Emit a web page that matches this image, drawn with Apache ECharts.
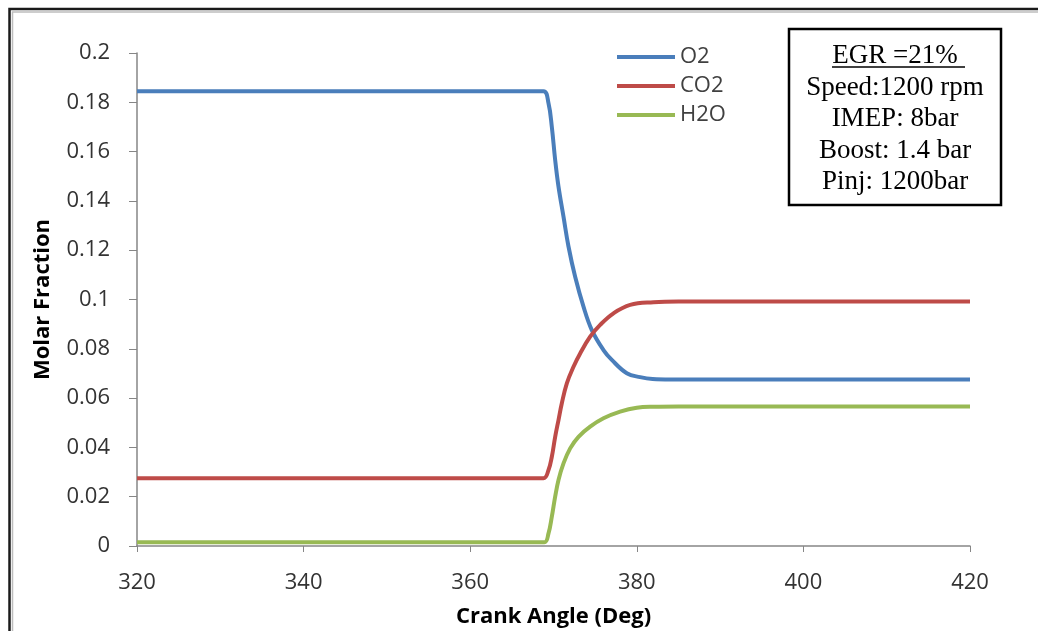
<!DOCTYPE html>
<html>
<head>
<meta charset="utf-8">
<script src="https://cdn.jsdelivr.net/npm/echarts@6/dist/echarts.min.js"></script>
<style>
  html, body { margin: 0; padding: 0; background: #ffffff; }
  #chart { width: 1038px; height: 631px; }
</style>
</head>
<body>
<div id="chart"></div>
<script>
// Molar fraction of in-cylinder species vs crank angle
const o2Angle  = [320, 360, 366, 368.8, 369.4, 369.8, 370.2, 370.6, 371.2, 371.8, 372.6, 373.6, 374.6, 376.0, 377.0, 378.8, 380.4, 381.9, 384, 390, 400, 420];
const o2Value  = [0.1845, 0.1845, 0.1845, 0.1845, 0.1796, 0.170, 0.1566, 0.1458, 0.1336, 0.1215, 0.1092, 0.0971, 0.0876, 0.0795, 0.0755, 0.0701, 0.0685, 0.0677, 0.0675, 0.0675, 0.0675, 0.0675];

const co2Angle = [320, 360, 366, 368.8, 369.4, 369.8, 370.2, 370.6, 371.0, 371.6, 372.4, 373.2, 374.4, 375.6, 377.2, 379.2, 382.0, 385, 390, 400, 420];
const co2Value = [0.0275, 0.0275, 0.0275, 0.0275, 0.0308, 0.0362, 0.0443, 0.0511, 0.0579, 0.0660, 0.0727, 0.0781, 0.0849, 0.0897, 0.0944, 0.0978, 0.0989, 0.0992, 0.0992, 0.0992, 0.0992];

const h2oAngle = [320, 360, 366, 368.9, 369.4, 369.8, 370.2, 370.6, 371.2, 372.0, 373.0, 374.4, 376.0, 378.0, 380.0, 382.0, 385, 390, 400, 420];
const h2oValue = [0.0015, 0.0015, 0.0015, 0.0015, 0.0051, 0.0119, 0.0200, 0.0268, 0.0335, 0.0396, 0.0443, 0.0484, 0.0518, 0.0545, 0.0561, 0.0565, 0.0566, 0.0566, 0.0566, 0.0566];

const xTicks = { min: 320, max: 420, step: 20 };
const yTicks = { min: 0, max: 0.2, step: 0.02 };

const conditionLines = ['EGR =21%', 'Speed:1200 rpm', 'IMEP: 8bar', 'Boost: 1.4 bar', 'Pinj: 1200bar'];

function pairs(xs, ys) { return xs.map((x, i) => [x, ys[i]]); }

const chart = echarts.init(document.getElementById('chart'), null, { renderer: 'canvas' });

const axisGray = '#868686';
const labelColor = '#333333';
const uiFont = '"Open Sans", "Liberation Sans", sans-serif';
const serifFont = '"Liberation Serif", "DejaVu Serif", serif';

const lineSeries = (name, color, xs, ys) => ({
  name, type: 'line', data: pairs(xs, ys),
  smooth: 0.4, showSymbol: false, symbol: 'none',
  lineStyle: { width: 4, color }, itemStyle: { color }
});

// operating-condition box
const boxLeft = 789, boxTop = 29, boxW = 212, boxH = 176, lineStep = 31.5;
const textGraphics = conditionLines.map((t, i) => ({
  type: 'text', x: boxLeft + boxW / 2, y: boxTop + 27 + i * lineStep, z: 11,
  style: {
    text: t, x: 0, y: 0,
    align: 'center', verticalAlign: 'middle',
    font: '27px ' + serifFont, fill: '#000000'
  }
}));

chart.setOption({
  backgroundColor: '#ffffff',
  animation: false,
  grid: { left: 137, right: 68, top: 53, bottom: 85, containLabel: false, outerBoundsMode: 'none' },
  legend: {
    orient: 'vertical', left: 612, top: 41,
    itemWidth: 58, itemHeight: 4, itemGap: 7, icon: 'rect',
    textStyle: { fontFamily: uiFont, fontSize: 22, color: '#404040' },
    data: ['O2', 'CO2', 'H2O']
  },
  xAxis: {
    type: 'value', min: xTicks.min, max: xTicks.max, interval: xTicks.step,
    name: 'Crank Angle (Deg)', nameLocation: 'middle', nameGap: 60,
    nameTextStyle: { fontFamily: uiFont, fontWeight: 'bold', fontSize: 22, color: '#000000' },
    axisLine: { lineStyle: { color: axisGray, width: 1.5 } },
    axisTick: { show: true, inside: false, length: 6, lineStyle: { color: axisGray } },
    axisLabel: { fontFamily: uiFont, fontSize: 22, color: labelColor, margin: 26 },
    splitLine: { show: false }
  },
  yAxis: {
    type: 'value', min: yTicks.min, max: yTicks.max, interval: yTicks.step,
    name: 'Molar Fraction', nameLocation: 'middle', nameGap: 83, nameRotate: 90,
    nameTextStyle: { fontFamily: uiFont, fontWeight: 'bold', fontSize: 22, color: '#000000' },
    axisLine: { show: true, lineStyle: { color: axisGray, width: 1.5 } },
    axisTick: { show: true, inside: false, length: 8, lineStyle: { color: axisGray } },
    axisLabel: {
      fontFamily: uiFont, fontSize: 22, color: labelColor, margin: 27,
      formatter: v => String(+v.toFixed(2))
    },
    splitLine: { show: false }
  },
  series: [
    lineSeries('O2', '#4a7ebb', o2Angle, o2Value),
    lineSeries('CO2', '#be4b48', co2Angle, co2Value),
    lineSeries('H2O', '#98b954', h2oAngle, h2oValue)
  ],
  graphic: [
    // outer chart frame
    { type: 'rect', shape: { x: 9.5, y: 9, width: 1060, height: 660 },
      style: { fill: 'none', stroke: '#1a1a1a', lineWidth: 2.5 } },
    { type: 'rect', shape: { x: 12.5, y: 12, width: 1060, height: 660 },
      style: { fill: 'none', stroke: '#bdbdbd', lineWidth: 1.5 } },
    { type: 'rect', shape: { x: boxLeft, y: boxTop, width: boxW, height: boxH }, z: 10,
      style: { fill: '#ffffff', stroke: '#000000', lineWidth: 2.5 } },
    ...textGraphics,
    { type: 'line', shape: { x1: 832, y1: 67, x2: 965, y2: 67 }, z: 11,
      style: { stroke: '#000000', lineWidth: 1.5 } }
  ]
});
</script>
</body>
</html>
